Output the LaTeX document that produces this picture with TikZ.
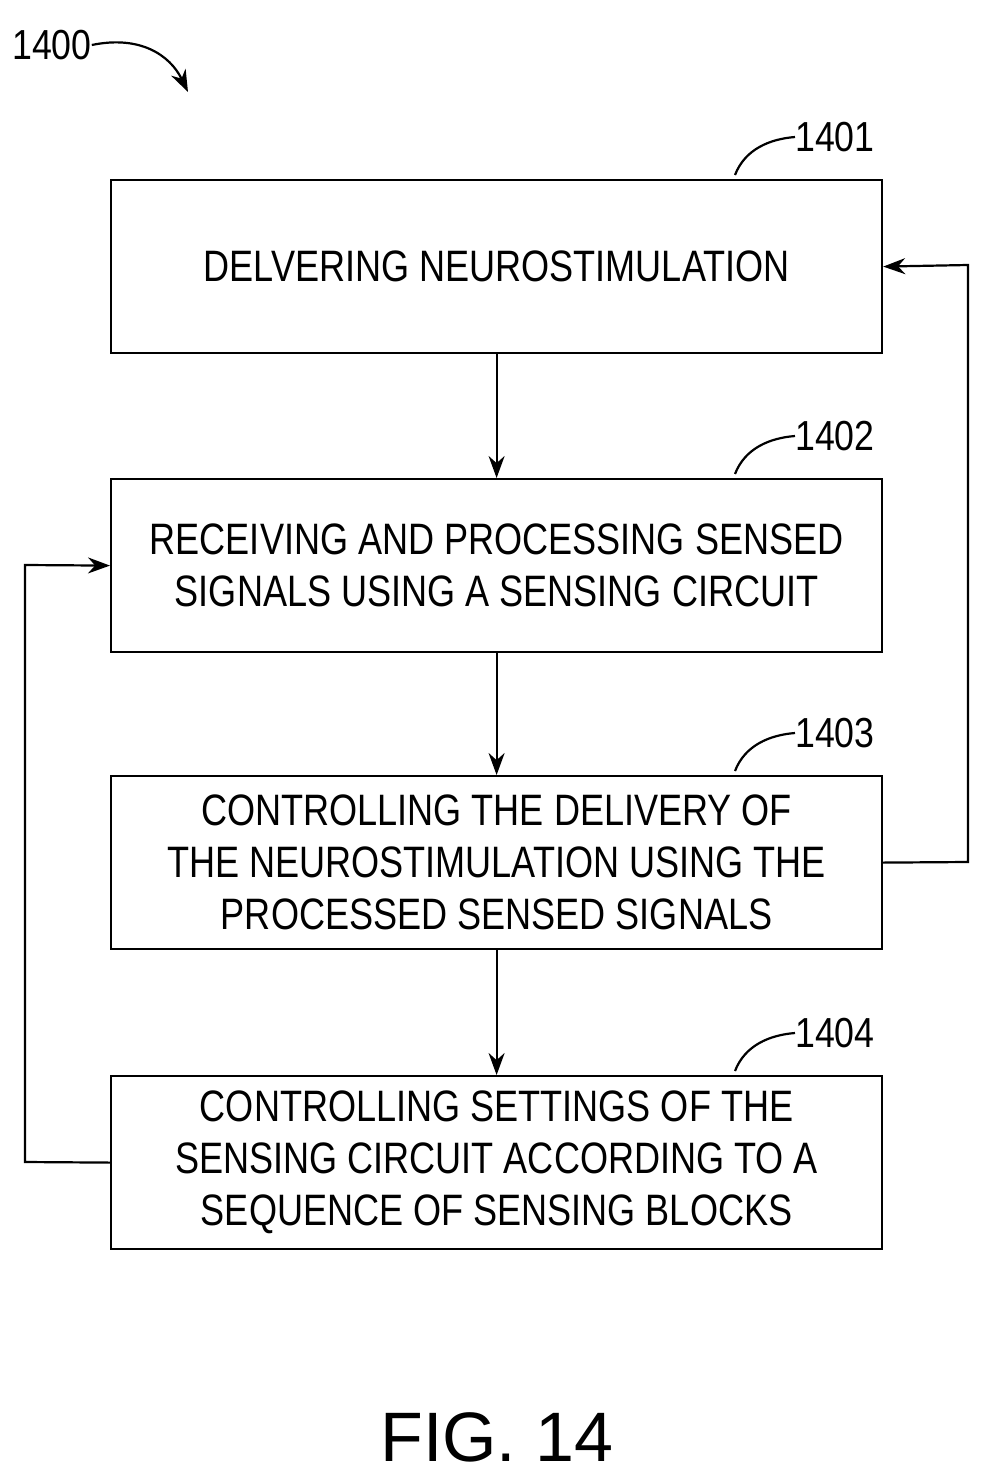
\documentclass[tikz,border=0pt]{standalone}
\usepackage{fontspec}
\setmainfont{Liberation Sans}[FakeStretch=0.82]
\newfontfamily\labfont{Liberation Sans}[FakeStretch=0.85]
\usetikzlibrary{arrows.meta}
\begin{document}
\begin{tikzpicture}[x=1pt,y=-1pt,
  box/.style={draw,line width=2.2pt,minimum width=771pt,minimum height=173pt,anchor=north west,align=center,inner sep=0pt,font=\fontsize{44}{52}\selectfont},
  lab/.style={font=\labfont\fontsize{42}{42}\selectfont,anchor=west,inner sep=0pt},
  ln/.style={line width=2.2pt},
  arr/.style={ln,-{Stealth[length=22pt,width=16pt]}}]
\useasboundingbox (0,0) rectangle (988,1479);
\node[box] (b1) at (110,179) {DELVERING NEUROSTIMULATION};
\node[box] (b2) at (110,478) {RECEIVING AND PROCESSING SENSED\\SIGNALS USING A SENSING CIRCUIT};
\node[box] (b3) at (110,775) {CONTROLLING THE DELIVERY OF\\THE NEUROSTIMULATION USING THE\\PROCESSED SENSED SIGNALS};
\node[box] (b4) at (110,1075) {CONTROLLING SETTINGS OF THE\\SENSING CIRCUIT ACCORDING TO A\\SEQUENCE OF SENSING BLOCKS};
\draw[arr] (b1.south) -- (b2.north);
\draw[arr] (b2.south) -- (b3.north);
\draw[arr] (b3.south) -- (b4.north);
\coordinate (r1) at (968,862); \coordinate (r2) at (968,265);
\draw[arr] (b3.east) -- (r1) -- (r2) -- (b1.east);
\coordinate (l1) at (25,1162); \coordinate (l2) at (25,565);
\draw[arr] (b4.west) -- (l1) -- (l2) -- (b2.west);
\foreach \n/\y in {1401/179,1402/478,1403/775,1404/1075}{
  \node[lab] (t\n) at (795,\y-42) {\n};
  \draw[ln] (735,\y-4) .. controls (745,\y-30) and (770,\y-40) .. (t\n.west);
}
\node[lab] (t1400) at (12,45) {1400};
\draw[arr] (t1400.east) .. controls (140,35) and (170,55) .. (188,92);
\node[font=\fontsize{70}{70}\selectfont\setmainfont{Liberation Sans}] (fig) at (497,1437) {FIG. 14};
\end{tikzpicture}
\end{document}
